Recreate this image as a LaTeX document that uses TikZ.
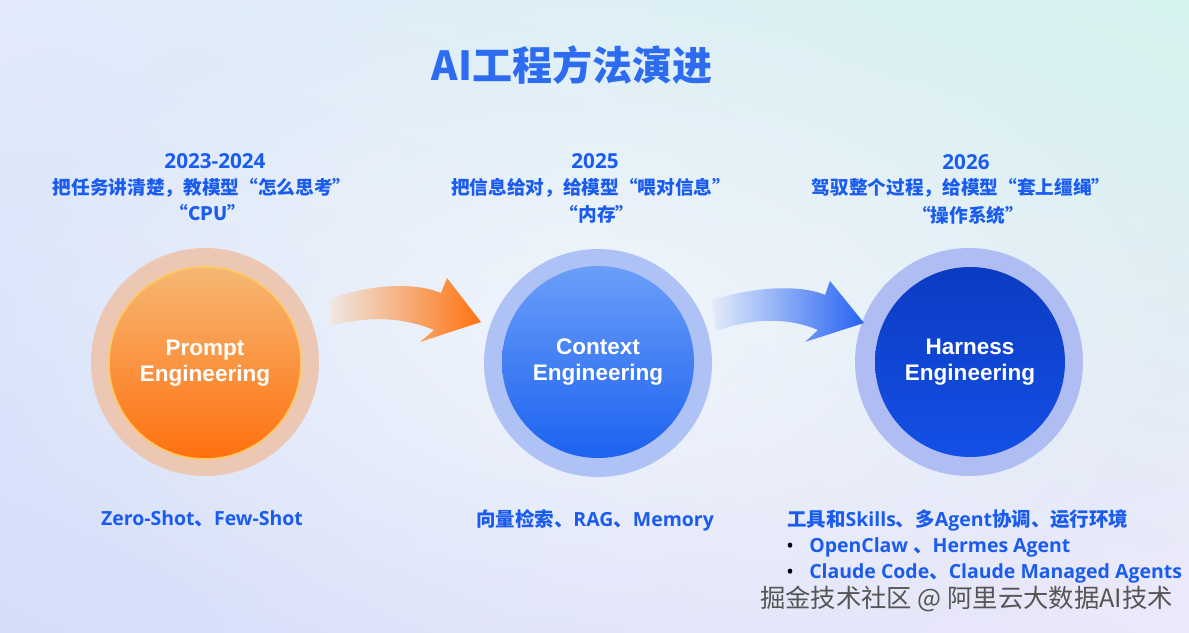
\documentclass[tikz,border=0pt]{standalone}
\usepackage{fontspec}
\setmainfont{Open Sans}
\newfontfamily\cjk{Noto Sans CJK SC}
\newfontfamily\arialf{Liberation Sans}
\usetikzlibrary{fadings,shadings}
\newcommand\zh[1]{{\cjk #1}}
\definecolor{bgUL}{HTML}{E2EAFB}
\definecolor{bgUR}{HTML}{D6F3EF}
\definecolor{bgLL}{HTML}{D4DEF9}
\definecolor{bgLR}{HTML}{ECE8FA}
\definecolor{titleblue}{HTML}{2D6BF1}
\definecolor{labelblue}{HTML}{1A5CEF}
\definecolor{ringO}{HTML}{EBC7B4}
\definecolor{ringB}{HTML}{AEC2F6}
\definecolor{ringC}{HTML}{AFBDF3}
\definecolor{orTop}{HTML}{F6B874}
\definecolor{orBot}{HTML}{FF700F}
\definecolor{orEdge}{HTML}{FFC95C}
\definecolor{blTop}{HTML}{6A9EF8}
\definecolor{blBot}{HTML}{1C62F0}
\definecolor{dbTop}{HTML}{0B3BC2}
\definecolor{dbBot}{HTML}{1450E6}
\definecolor{arOL}{HTML}{EEE8E3}
\definecolor{arOM}{HTML}{F4D0B0}
\definecolor{arOR}{HTML}{FF7210}
\definecolor{arBL}{HTML}{E4ECFA}
\definecolor{arBM}{HTML}{AAC4F8}
\definecolor{arBR}{HTML}{2563F2}
\definecolor{wmgray}{HTML}{555555}
\tikzfading[name=glowfade, inner color=transparent!0, outer color=transparent!100]
\tikzset{
  ring/.style={circle, inner sep=0pt, minimum size=171pt},
  core/.style={circle, inner sep=0pt, minimum size=144pt, align=center,
    text=white, font=\arialf\bfseries\fontsize{16.9pt}{19.5pt}\selectfont},
  yearlbl/.style={text=labelblue, font=\bfseries\fontsize{15.5pt}{18pt}\selectfont, inner sep=0pt},
  sublbl/.style={text=labelblue, font=\cjk\bfseries\fontsize{14pt}{16pt}\selectfont, inner sep=0pt},
  bottomlbl/.style={text=labelblue, font=\bfseries\fontsize{14.6pt}{17pt}\selectfont, inner sep=0pt},
  bullet/.style={text=black, font=\bfseries\fontsize{12pt}{14pt}\selectfont, inner sep=0pt},
}
\begin{document}
\begin{tikzpicture}[x=0.75pt,y=-0.75pt]
\useasboundingbox (0,0) rectangle (1189,632);
\shade[upper left=bgUL, upper right=bgUR, lower left=bgLL, lower right=bgLR] (0,0) rectangle (1189,632);
\fill[white, opacity=0.55, path fading=glowfade] (590,330) ellipse [x radius=620, y radius=360];

% title
\node[text=titleblue, font=\cjk\bfseries\fontsize{30pt}{34pt}\selectfont, inner sep=0pt] (title) at (572,65) {AI工程方法演进};

% column headers
\node[yearlbl] (y1) at (215,161) {2023-2024};
\node[sublbl] (s1) at (202,188) {把任务讲清楚，教模型“怎么思考”};
\node[sublbl] (c1) at (208,213) {“CPU”};
\node[yearlbl] (y2) at (595,161) {2025};
\node[sublbl] (s2) at (591,188) {把信息给对，给模型“喂对信息”};
\node[sublbl] (c2) at (597,214) {“内存”};
\node[yearlbl] (y3) at (966,162) {2026};
\node[sublbl] (s3) at (961,188) {驾驭整个过程，给模型“套上缰绳”};
\node[sublbl] (c3) at (968,215) {“操作系统”};

% circles
\node[ring, fill=ringO] (r1) at (205,362) {};
\node[core, top color=orTop, bottom color=orBot, draw=orEdge, line width=1.2pt] (p1) at (205,363) {Prompt\\Engineering};
\node[ring, fill=ringB] (r2) at (598,363) {};
\node[core, top color=blTop, bottom color=blBot] (p2) at (598,362) {Context\\Engineering};
\node[ring, fill=ringC] (r3) at (969,362) {};
\node[core, minimum size=142.5pt, top color=dbTop, bottom color=dbBot] (p3) at (970,362) {Harness\\Engineering};

% curved block arrows
\shade[left color=arOL, middle color=arOM, right color=arOR]
  (330,299) .. controls (370,284) and (415,282) .. (441,293)
  -- (447,278) -- (481,322) -- (420,342) -- (434,330)
  .. controls (405,318) and (370,315) .. (330,326) -- cycle;
\shade[left color=arBL, middle color=arBM, right color=arBR]
  (712,300) .. controls (752,287) and (800,284) .. (825,295)
  -- (830,281) -- (864,323) -- (805,342) -- (818,330)
  .. controls (790,318) and (755,317) .. (716,331) -- cycle;

% bottom labels
\node[bottomlbl] (b1) at (202,519) {Zero-Shot\zh{、}Few-Shot};
\node[bottomlbl] (b2) at (595,520) {\zh{向量检索、}RAG\zh{、}Memory};
\node[bottomlbl, anchor=west] (b3) at (787,520) {\zh{工具和}Skills\zh{、多}Agent\zh{协调、运行环境}};
\node[bullet] (d1) at (790,547) {•};
\node[bottomlbl, anchor=west] (b4) at (809,547) {OpenClaw \zh{、}Hermes Agent};
\node[bullet] (d2) at (790,573) {•};
\node[bottomlbl, anchor=west] (b5) at (809,573) {Claude Code\zh{、}Claude Managed Agents};

% watermark
\node[text=wmgray, font=\cjk\fontsize{19pt}{21pt}\selectfont, inner sep=0pt, anchor=west] (wm) at (760,599) {掘金技术社区 @ 阿里云大数据AI技术};
\end{tikzpicture}
\end{document}
